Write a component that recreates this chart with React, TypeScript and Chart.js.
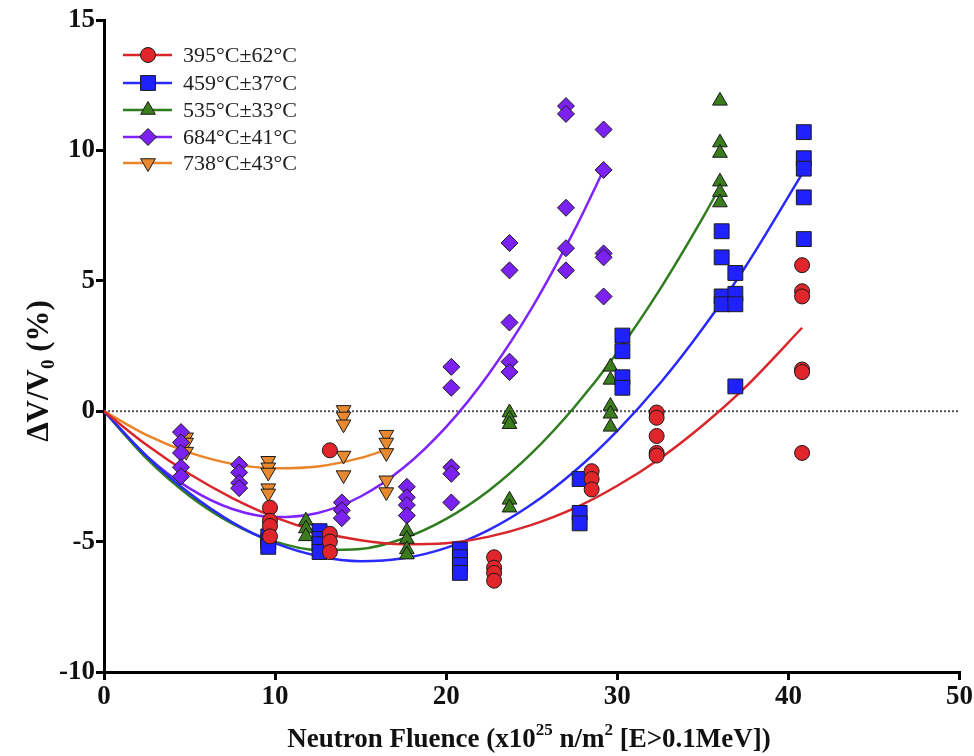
import React, { useEffect, useRef } from 'react';
import { Chart, registerables } from 'chart.js';

Chart.register(...registerables);

// ---- series labels & colours ----
const seriesLabels = ['395°C±62°C', '459°C±37°C', '535°C±33°C', '684°C±41°C', '738°C±43°C'];
const markerStyles = ['circle', 'rect', 'triangle', 'rectRot', 'triangleDown'];
const markerFill = ['#e0262b', '#1f22ff', '#3b7d1c', '#7b22f2', '#e8892f'];
const lineColor = ['#d8262b', '#2a2aff', '#2f7d1e', '#7f24ff', '#ea8428'];
const markerRadius = [7.5, 10.5, 8.5, 8.5, 8.5];

// ---- measured points (x = fluence, y = ΔV/V0 %) ----
const x395 = [9.7, 9.7, 9.7, 9.7, 13.2, 13.2, 13.2, 13.2, 22.8, 22.8, 22.8, 22.8, 28.5, 28.5, 28.5, 32.3, 32.3, 32.3, 32.3, 32.3, 40.8, 40.8, 40.8, 40.8, 40.8, 40.8];
const y395 = [-3.7, -4.2, -4.4, -4.8, -1.5, -4.7, -5.0, -5.4, -5.6, -6.0, -6.2, -6.5, -2.3, -2.6, -3.0, -0.05, -0.25, -0.95, -1.6, -1.7, 5.6, 4.6, 4.4, 1.6, 1.5, -1.6];

const x459 = [9.6, 9.6, 9.6, 12.6, 12.6, 12.6, 12.6, 20.8, 20.8, 20.8, 20.8, 27.8, 27.8, 27.8, 30.3, 30.3, 30.3, 30.3, 36.1, 36.1, 36.1, 36.1, 36.9, 36.9, 36.9, 36.9, 40.9, 40.9, 40.9, 40.9, 40.9];
const y459 = [-4.8, -5.0, -5.2, -4.6, -4.9, -5.1, -5.4, -5.3, -5.6, -5.9, -6.2, -2.6, -3.9, -4.3, 2.9, 2.3, 1.3, 0.9, 6.9, 5.9, 4.4, 4.1, 5.3, 4.5, 4.1, 0.95, 10.7, 9.7, 9.3, 8.2, 6.6];

const x535 = [11.8, 11.8, 11.8, 17.7, 17.7, 17.7, 17.7, 23.7, 23.7, 23.7, 23.7, 23.7, 29.6, 29.6, 29.6, 29.6, 29.6, 36.0, 36.0, 36.0, 36.0, 36.0, 36.0];
const y535 = [-4.2, -4.5, -4.8, -4.6, -4.9, -5.3, -5.5, -0.05, -0.3, -0.5, -3.4, -3.7, 1.7, 1.2, 0.2, -0.1, -0.6, 11.9, 10.3, 9.9, 8.8, 8.4, 8.0];

const x684 = [4.5, 4.5, 4.5, 4.5, 4.5, 7.9, 7.9, 7.9, 7.9, 13.9, 13.9, 13.9, 17.7, 17.7, 17.7, 17.7, 20.3, 20.3, 20.3, 20.3, 20.3, 23.7, 23.7, 23.7, 23.7, 23.7, 27.0, 27.0, 27.0, 27.0, 27.0, 29.2, 29.2, 29.2, 29.2, 29.2];
const y684 = [-0.8, -1.2, -1.6, -2.15, -2.5, -2.05, -2.35, -2.75, -2.95, -3.5, -3.8, -4.1, -2.9, -3.3, -3.6, -4.0, 1.7, 0.9, -2.15, -2.4, -3.5, 6.45, 5.4, 3.4, 1.9, 1.5, 11.7, 11.4, 7.8, 6.25, 5.4, 10.8, 9.25, 6.05, 5.9, 4.4];

const x738 = [4.8, 4.8, 4.8, 9.6, 9.6, 9.6, 9.6, 9.6, 14.0, 14.0, 14.0, 14.0, 14.0, 16.5, 16.5, 16.5, 16.5, 16.5];
const y738 = [-1.0, -1.2, -1.55, -1.9, -2.15, -2.35, -2.95, -3.15, 0.05, -0.2, -0.5, -1.7, -2.45, -0.9, -1.2, -1.6, -2.65, -3.1];

// ---- fitted curves ----
const fit395X = [0, 2.5, 5, 7.5, 10, 12.5, 15, 17.5, 20, 22.5, 25, 27.5, 30, 32.5, 35, 37.5, 40.8];
const fit395Y = [0, -1.3, -2.41, -3.33, -4.07, -4.61, -4.95, -5.1, -5.06, -4.81, -4.36, -3.72, -2.86, -1.81, -0.54, 0.93, 3.2];
const fit459X = [0, 2.5, 5, 7.5, 10, 12.5, 15, 17.5, 20, 22.5, 25, 27.5, 30, 32.5, 35, 37.5, 40.8];
const fit459Y = [0, -1.73, -3.15, -4.26, -5.06, -5.55, -5.75, -5.64, -5.24, -4.55, -3.57, -2.3, -0.75, 1.07, 3.18, 5.55, 9.1];
const fit535X = [0, 2.5, 5, 7.5, 10, 12.5, 15, 17.5, 20, 22.5, 25, 27.5, 30, 32.5, 35, 36];
const fit535Y = [0, -1.82, -3.25, -4.31, -5.0, -5.32, -5.28, -4.88, -4.13, -3.04, -1.61, 0.16, 2.25, 4.68, 7.42, 8.6];
const fit684X = [0, 2.5, 5, 7.5, 10, 12.5, 15, 17.5, 20, 22.5, 25, 27.5, 29.2];
const fit684Y = [0, -1.72, -2.96, -3.75, -4.06, -3.9, -3.27, -2.17, -0.6, 1.44, 3.95, 6.95, 9.25];
const fit738X = [0, 2.5, 5, 7.5, 10, 12.5, 15, 16.5];
const fit738Y = [0, -0.92, -1.59, -2.02, -2.19, -2.12, -1.79, -1.48];

// ---- axes ----
const xTicks = [0, 10, 20, 30, 40, 50];
const yTicks = [-10, -5, 0, 5, 10, 15];

const pointsX = [x395, x459, x535, x684, x738];
const pointsY = [y395, y459, y535, y684, y738];
const fitsX = [fit395X, fit459X, fit535X, fit684X, fit738X];
const fitsY = [fit395Y, fit459Y, fit535Y, fit684Y, fit738Y];

const zip = (xs: number[], ys: number[]) => xs.map((x, i) => ({ x, y: ys[i] }));

const SERIF = '"Liberation Serif", "Times New Roman", serif';

function drawMarker(ctx: CanvasRenderingContext2D, style: string, x: number, y: number, r: number, fill: string) {
  ctx.beginPath();
  if (style === 'circle') {
    ctx.arc(x, y, r, 0, Math.PI * 2);
  } else if (style === 'rect') {
    const s = r * Math.SQRT1_2;
    ctx.rect(x - s, y - s, 2 * s, 2 * s);
  } else if (style === 'rectRot') {
    ctx.moveTo(x, y - r);
    ctx.lineTo(x + r, y);
    ctx.lineTo(x, y + r);
    ctx.lineTo(x - r, y);
    ctx.closePath();
  } else if (style === 'triangle' || style === 'triangleDown') {
    const d = style === 'triangle' ? 1 : -1;
    const a0 = -Math.PI / 2;
    for (let k = 0; k < 3; k++) {
      const a = a0 + (k * 2 * Math.PI) / 3;
      const px = x + r * Math.cos(a);
      const py = y + d * r * Math.sin(a);
      if (k === 0) ctx.moveTo(px, py);
      else ctx.lineTo(px, py);
    }
    ctx.closePath();
  }
  ctx.fillStyle = fill;
  ctx.fill();
  ctx.lineWidth = 1;
  ctx.strokeStyle = '#1a1a1a';
  ctx.stroke();
}

type Seg = { t: string; mode?: 'sup' | 'sub' };

function drawRich(ctx: CanvasRenderingContext2D, segs: Seg[], cx: number, cy: number, size: number) {
  const small = Math.round(size * 0.62);
  const fontFor = (s: Seg) => `bold ${s.mode ? small : size}px ${SERIF}`;
  let total = 0;
  const widths = segs.map((s) => {
    ctx.font = fontFor(s);
    const w = ctx.measureText(s.t).width;
    total += w;
    return w;
  });
  let x = cx - total / 2;
  ctx.textBaseline = 'middle';
  ctx.textAlign = 'left';
  ctx.fillStyle = '#111';
  segs.forEach((s, i) => {
    ctx.font = fontFor(s);
    let dy = 0;
    if (s.mode === 'sup') dy = -size * 0.36;
    if (s.mode === 'sub') dy = size * 0.3;
    ctx.fillText(s.t, x, cy + dy);
    x += widths[i];
  });
}

const decorPlugin = {
  id: 'decor',
  afterDraw(chart: any) {
    const ctx: CanvasRenderingContext2D = chart.ctx;
    ctx.save();
    // legend
    const rows = [55, 83, 110, 137, 163];
    seriesLabels.forEach((lab, i) => {
      const y = rows[i];
      ctx.beginPath();
      ctx.moveTo(123, y);
      ctx.lineTo(172, y);
      ctx.strokeStyle = lineColor[i];
      ctx.lineWidth = 2.5;
      ctx.stroke();
      drawMarker(ctx, markerStyles[i], 148, y, markerRadius[i], markerFill[i]);
      ctx.font = `22px ${SERIF}`;
      ctx.fillStyle = '#222';
      ctx.textAlign = 'left';
      ctx.textBaseline = 'middle';
      ctx.fillText(lab, 183, y + 1);
    });
    // x title
    drawRich(
      ctx,
      [
        { t: 'Neutron Fluence (x10' },
        { t: '25', mode: 'sup' },
        { t: ' n/m' },
        { t: '2', mode: 'sup' },
        { t: ' [E>0.1MeV])' },
      ],
      529,
      740,
      27
    );
    // y title
    ctx.save();
    ctx.translate(40, 371);
    ctx.rotate(-Math.PI / 2);
    drawRich(ctx, [{ t: 'ΔV/V' }, { t: '0', mode: 'sub' }, { t: ' (%)' }], 0, 0, 31);
    ctx.restore();
    ctx.restore();
  },
};

export default function App() {
  const ref = useRef<HTMLCanvasElement | null>(null);

  useEffect(() => {
    if (!ref.current) return;
    const datasets: any[] = [];
    seriesLabels.forEach((lab, i) => {
      datasets.push({
        label: lab,
        data: zip(pointsX[i], pointsY[i]),
        showLine: false,
        pointStyle: markerStyles[i] === 'triangleDown' ? 'triangle' : markerStyles[i],
        rotation: markerStyles[i] === 'triangleDown' ? 180 : 0,
        pointRadius: markerRadius[i],
        pointBackgroundColor: markerFill[i],
        pointBorderColor: '#1a1a1a',
        pointBorderWidth: 1,
        order: 1 + i * 0.01,
      });
    });
    seriesLabels.forEach((lab, i) => {
      datasets.push({
        label: lab + ' fit',
        data: zip(fitsX[i], fitsY[i]),
        showLine: true,
        borderColor: lineColor[i],
        borderWidth: 2.5,
        pointRadius: 0,
        tension: 0.4,
        cubicInterpolationMode: 'monotone',
        fill: false,
        order: 5,
      });
    });
    datasets.push({
      label: 'zero',
      data: [
        { x: 0, y: 0 },
        { x: 50, y: 0 },
      ],
      showLine: true,
      borderColor: '#555',
      borderWidth: 2,
      borderDash: [2, 2],
      pointRadius: 0,
      order: 10,
    });

    const chart = new Chart(ref.current, {
      type: 'scatter',
      data: { datasets },
      plugins: [decorPlugin],
      options: {
        responsive: false,
        animation: false,
        layout: { padding: { left: 0, top: 20, right: 14, bottom: 0 } },
        plugins: {
          legend: { display: false },
          tooltip: { enabled: false },
        },
        scales: {
          x: {
            type: 'linear',
            min: 0,
            max: 50,
            afterBuildTicks: (s: any) => {
              s.ticks = xTicks.map((v) => ({ value: v }));
            },
            afterFit: (s: any) => {
              s.height = 84;
            },
            border: { display: true, color: '#000', width: 3 },
            grid: { drawOnChartArea: false, drawTicks: true, tickLength: 8, color: '#000', lineWidth: 3 },
            ticks: {
              color: '#111',
              padding: 1,
              maxRotation: 0,
              font: { family: SERIF, size: 27, weight: 'bold' },
            },
          },
          y: {
            type: 'linear',
            min: -10,
            max: 15,
            afterBuildTicks: (s: any) => {
              s.ticks = yTicks.map((v) => ({ value: v }));
            },
            afterFit: (s: any) => {
              s.width = 104;
            },
            border: { display: true, color: '#000', width: 3 },
            grid: { drawOnChartArea: false, drawTicks: true, tickLength: 8, color: '#000', lineWidth: 3 },
            ticks: {
              color: '#111',
              padding: 1,
              font: { family: SERIF, size: 27, weight: 'bold' },
            },
          },
        },
      } as any,
    });
    return () => chart.destroy();
  }, []);

  return (
    <div style={{ position: 'fixed', left: 0, top: 0, width: 974, height: 756, background: '#fff' }}>
      <canvas ref={ref} width={974} height={756} style={{ width: 974, height: 756 }} />
    </div>
  );
}
